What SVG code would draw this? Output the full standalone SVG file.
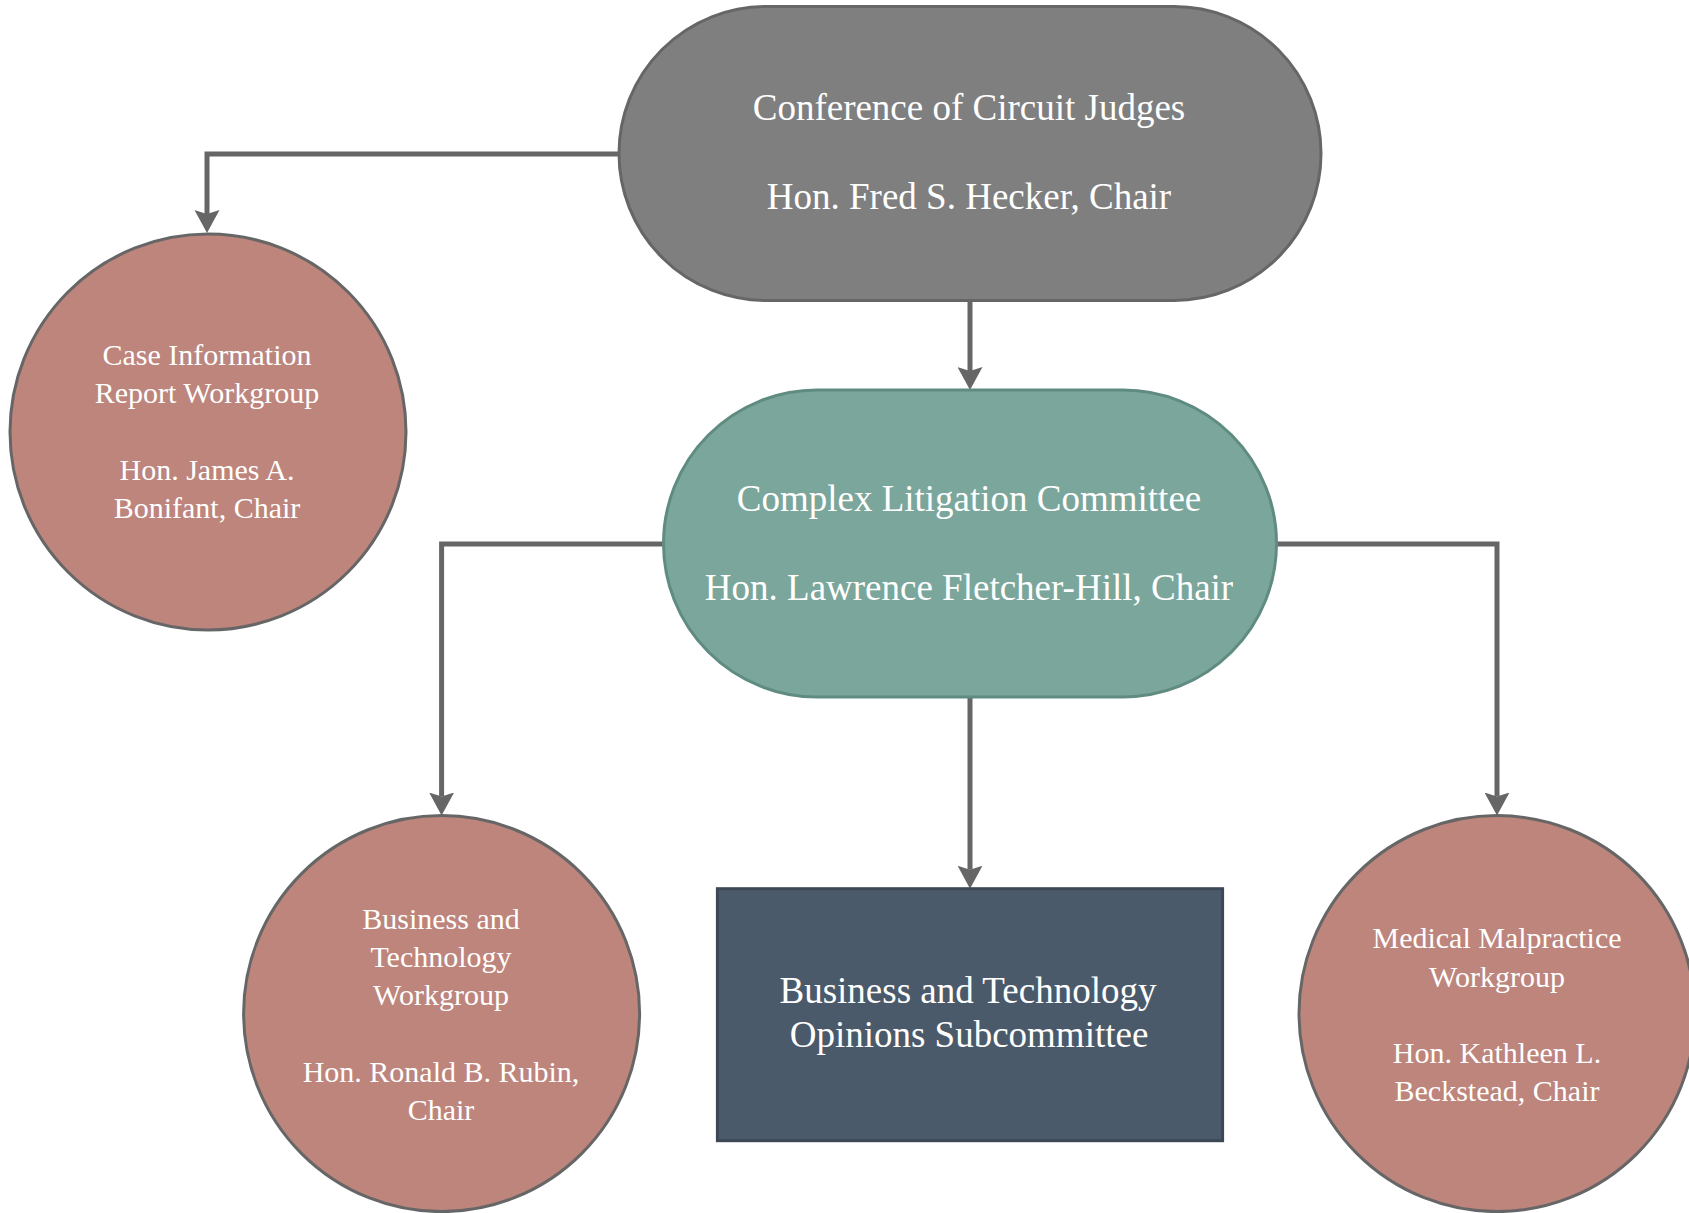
<svg xmlns="http://www.w3.org/2000/svg" width="1689" height="1213" viewBox="0 0 1689 1213">
  <style>
    .conn { fill: none; stroke: #666666; stroke-width: 5; }
    .circ { fill: #bd857c; stroke: #666666; stroke-width: 3; }
  </style>
  <defs>
    <marker id="arrow" viewBox="0 0 23 25" refX="4" refY="12.5" markerWidth="23" markerHeight="25" markerUnits="userSpaceOnUse" orient="auto">
      <path d="M0,0 L23,12.5 L0,25 L4,12.5 Z" fill="#666666"/>
    </marker>
  </defs>
  <rect width="1689" height="1213" fill="#ffffff"/>

  <g id="connectors">
    <path class="conn" d="M619,154 H207 V214" marker-end="url(#arrow)"/>
    <path class="conn" d="M970,300.5 V371" marker-end="url(#arrow)"/>
    <path class="conn" d="M663.5,544 H441.6 V796.5" marker-end="url(#arrow)"/>
    <path class="conn" d="M970,697 V869.7" marker-end="url(#arrow)"/>
    <path class="conn" d="M1276.5,544 H1497 V796.5" marker-end="url(#arrow)"/>
  </g>

  <g id="conference">
    <rect x="619" y="6.5" width="702" height="294" rx="147" ry="147" fill="#7f7f7f" stroke="#666666" stroke-width="3"/>
    <text font-family="Liberation Serif" font-size="37" fill="#ffffff" text-anchor="middle" x="969" y="120">Conference of Circuit Judges</text>
    <text font-family="Liberation Serif" font-size="37" fill="#ffffff" text-anchor="middle" x="969" y="209">Hon. Fred S. Hecker, Chair</text>
  </g>

  <g id="case-info">
    <circle class="circ" cx="208" cy="432" r="198"/>
    <text font-family="Liberation Serif" font-size="30" fill="#ffffff" text-anchor="middle" x="207" y="365">Case Information</text>
    <text font-family="Liberation Serif" font-size="30" fill="#ffffff" text-anchor="middle" x="207" y="403">Report Workgroup</text>
    <text font-family="Liberation Serif" font-size="30" fill="#ffffff" text-anchor="middle" x="207" y="479.5">Hon. James A.</text>
    <text font-family="Liberation Serif" font-size="30" fill="#ffffff" text-anchor="middle" x="207" y="518">Bonifant, Chair</text>
  </g>

  <g id="complex-litigation">
    <rect x="663.5" y="390" width="613" height="307" rx="153.5" ry="153.5" fill="#7ba69b" stroke="#5f8b80" stroke-width="3"/>
    <text font-family="Liberation Serif" font-size="37" fill="#ffffff" text-anchor="middle" x="969" y="511">Complex Litigation Committee</text>
    <text font-family="Liberation Serif" font-size="37" fill="#ffffff" text-anchor="middle" x="969" y="600">Hon. Lawrence Fletcher-Hill, Chair</text>
  </g>

  <g id="business-tech-workgroup">
    <circle class="circ" cx="441.6" cy="1013.6" r="198"/>
    <text font-family="Liberation Serif" font-size="30" fill="#ffffff" text-anchor="middle" x="441" y="929">Business and</text>
    <text font-family="Liberation Serif" font-size="30" fill="#ffffff" text-anchor="middle" x="441" y="967">Technology</text>
    <text font-family="Liberation Serif" font-size="30" fill="#ffffff" text-anchor="middle" x="441" y="1005">Workgroup</text>
    <text font-family="Liberation Serif" font-size="30" fill="#ffffff" text-anchor="middle" x="441" y="1082">Hon. Ronald B. Rubin,</text>
    <text font-family="Liberation Serif" font-size="30" fill="#ffffff" text-anchor="middle" x="441" y="1120">Chair</text>
  </g>

  <g id="opinions-subcommittee">
    <rect x="717.4" y="888.7" width="505.2" height="252" fill="#4b5a6a" stroke="#3c4856" stroke-width="3"/>
    <text font-family="Liberation Serif" font-size="37" fill="#ffffff" text-anchor="middle" x="968" y="1003">Business and Technology</text>
    <text font-family="Liberation Serif" font-size="37" fill="#ffffff" text-anchor="middle" x="969" y="1047">Opinions Subcommittee</text>
  </g>

  <g id="medical-malpractice">
    <circle class="circ" cx="1497" cy="1013.6" r="198"/>
    <text font-family="Liberation Serif" font-size="30" fill="#ffffff" text-anchor="middle" x="1497" y="948">Medical Malpractice</text>
    <text font-family="Liberation Serif" font-size="30" fill="#ffffff" text-anchor="middle" x="1497" y="987">Workgroup</text>
    <text font-family="Liberation Serif" font-size="30" fill="#ffffff" text-anchor="middle" x="1497" y="1063">Hon. Kathleen L.</text>
    <text font-family="Liberation Serif" font-size="30" fill="#ffffff" text-anchor="middle" x="1497" y="1101">Beckstead, Chair</text>
  </g>
</svg>
